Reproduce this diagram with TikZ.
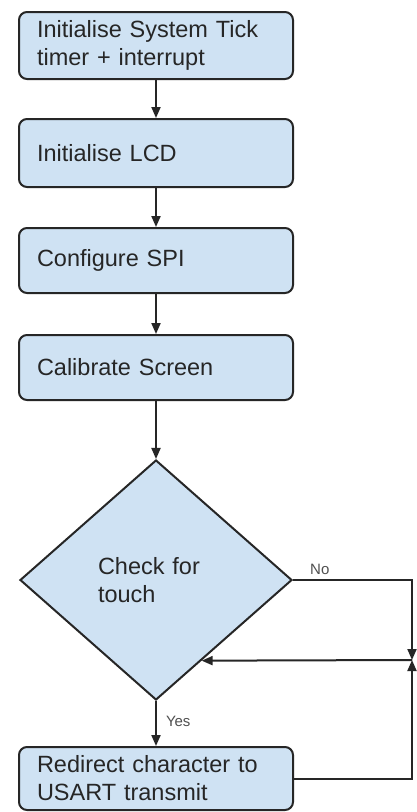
\documentclass[tikz,border=0pt]{standalone}
\usepackage{fontspec}
\setmainfont{Liberation Sans}
\usetikzlibrary{shapes.geometric,arrows.meta,calc}
\definecolor{boxfill}{HTML}{CFE2F3}
\definecolor{boxline}{HTML}{262626}
\definecolor{txt}{HTML}{262626}
\definecolor{lbl}{HTML}{505050}
\tikzset{
  stepbox/.style={draw=boxline, line width=2pt, fill=boxfill, rounded corners=8pt,
    minimum width=274pt, text width=238pt, align=left, text=txt,
    font=\fontsize{23.5}{28}\selectfont},
  decision/.style={diamond, draw=boxline, line width=2pt, fill=boxfill,
    minimum width=272pt, minimum height=240pt, inner sep=0pt, text width=116pt,
    align=left, text=txt, font=\fontsize{23.5}{28}\selectfont},
  flow/.style={draw=boxline, line width=2pt, -{Triangle[length=11pt,width=9pt]}},
  branch/.style={text=lbl, font=\fontsize{15}{18}\selectfont, inner sep=0pt},
}
\begin{document}
\begin{tikzpicture}[x=1pt,y=-1pt]
\useasboundingbox (0,0) rectangle (416,812);
\fill[white] (0,0) rectangle (416,812);

% process steps
\node[stepbox, minimum height=67pt] (tick) at (156,45.5) {Initialise System Tick\\timer + interrupt};
\node[stepbox, minimum height=68pt] (lcd)  at (156,153) {Initialise LCD};
\node[stepbox, minimum height=65pt] (spi)  at (156,260.5) {Configure SPI};
\node[stepbox, minimum height=65pt] (cal)  at (156,367.5) {Calibrate Screen};
\node[decision] (touch) at (156,580) {Check for\\touch};
\node[stepbox, minimum height=63pt] (usart) at (156,778.5) {Redirect character to\\USART transmit};

% loop-back junction on the right and its re-entry point on the diamond
\coordinate (join) at (412,660);
\coordinate (back) at ($(touch.east)!2/3!(touch.south)$);

\draw[flow] (tick) -- (lcd);
\draw[flow] (lcd) -- (spi);
\draw[flow] (spi) -- (cal);
\draw[flow] (cal) -- (touch);
\draw[flow] (touch) -- node[branch, pos=0.45, right=9pt] {Yes} (usart);
\draw[flow] (touch.east) -| (join);
\draw[flow] (usart.east) -| (join);
\draw[flow] (join) -- (back);

\node[branch, anchor=base west] (no) at (310,574) {No};
\end{tikzpicture}
\end{document}
